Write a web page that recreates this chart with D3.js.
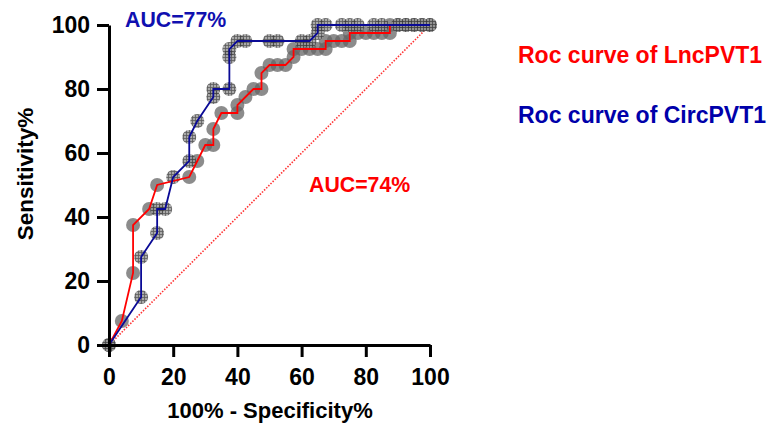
<!DOCTYPE html>
<html>
<head>
<meta charset="utf-8">
<script src="https://cdn.jsdelivr.net/npm/d3@7"></script>
<style>
  body { margin: 0; background: #fff; }
  text { font-family: "Liberation Sans", Arial, sans-serif; font-weight: bold; }
</style>
</head>
<body>
<div id="chart"></div>
<script>
// ROC points: [100% - specificity, sensitivity]
const lncPoints = [
  [0, 0], [4, 7.5], [7.5, 22.5], [7.5, 37.5], [12.5, 42.5], [15, 50], [25, 52.5],
  [27.5, 57.5], [30, 62.5], [32.5, 62.5], [32.5, 67.5], [35, 72.5], [40, 72.5],
  [40, 75], [42.5, 77.5], [45, 80], [47.5, 80], [47.5, 85], [50, 87.5], [52.5, 87.5],
  [55, 87.5], [57.5, 90], [57.5, 92.5], [60, 92.5], [62.5, 92.5], [65, 92.5],
  [67.5, 92.5], [67.5, 95], [70, 95], [72.5, 95], [75, 95], [75, 97.5], [77.5, 97.5],
  [80, 97.5], [82.5, 97.5], [85, 97.5], [87.5, 97.5], [87.5, 100], [90, 100],
  [92.5, 100], [95, 100], [97.5, 100], [100, 100]
];
const circPoints = [
  [0, 0], [10, 15], [10, 27.5], [15, 35], [15, 42.5], [17.5, 42.5], [20, 52.5],
  [25, 57.5], [25, 65], [27.5, 70], [32.5, 77.5], [32.5, 80], [37.5, 80], [37.5, 90],
  [37.5, 92.5], [40, 95], [42.5, 95], [50, 95], [52.5, 95], [60, 95], [62.5, 95],
  [65, 97.5], [65, 100], [67.5, 100], [72.5, 100], [75, 100], [77.5, 100],
  [82.5, 100], [85, 100], [90, 100], [92.5, 100], [95, 100], [97.5, 100], [100, 100]
];
const refLine = [[0, 0], [100, 100]];
const ticks = [0, 20, 40, 60, 80, 100];
const legendLabels = ["Roc curve of LncPVT1", "Roc curve of CircPVT1"];
const aucLabels = ["AUC=74%", "AUC=77%"];

const width = 767, height = 428;
const margin = { left: 109, right: 337, top: 25, bottom: 83 };
const red = "#ff0000", navy = "#0a0a96", blueText = "#1010b0";

const svg = d3.select("#chart").append("svg")
  .attr("width", width).attr("height", height);

const defs = svg.append("defs");
const pat = defs.append("pattern")
  .attr("id", "hatch").attr("patternUnits", "userSpaceOnUse")
  .attr("width", 3).attr("height", 3);
pat.append("rect").attr("width", 3).attr("height", 3).attr("fill", "#959595");
pat.append("path").attr("d", "M0,0.5H3M0.5,0V3")
  .attr("stroke", "#333").attr("stroke-width", 0.8);

const x = d3.scaleLinear().domain([0, 100]).range([margin.left, width - margin.right]);
const y = d3.scaleLinear().domain([0, 100]).range([height - margin.bottom, margin.top]);

const line = d3.line().x(d => x(d[0])).y(d => y(d[1]));

// reference diagonal
svg.append("path").datum(refLine)
  .attr("d", line).attr("fill", "none")
  .attr("stroke", red).attr("stroke-width", 1.6)
  .attr("stroke-dasharray", "1.5,1.5").attr("opacity", 0.8);

// markers
svg.append("g").selectAll("circle").data(lncPoints).join("circle")
  .attr("cx", d => x(d[0])).attr("cy", d => y(d[1])).attr("r", 7)
  .attr("fill", "#666").attr("fill-opacity", 0.75);

svg.append("g").selectAll("circle").data(circPoints).join("circle")
  .attr("cx", d => x(d[0])).attr("cy", d => y(d[1])).attr("r", 7)
  .attr("fill", "url(#hatch)").attr("fill-opacity", 0.8);

// curves
svg.append("path").datum(lncPoints)
  .attr("d", line).attr("fill", "none")
  .attr("stroke", red).attr("stroke-width", 1.8);

svg.append("path").datum(circPoints)
  .attr("d", line).attr("fill", "none")
  .attr("stroke", navy).attr("stroke-width", 1.8);

// axes
const xAxis = svg.append("g")
  .attr("transform", `translate(0,${y(0)})`)
  .call(d3.axisBottom(x).tickValues(ticks).tickSize(12).tickSizeOuter(0).tickPadding(12));
const yAxis = svg.append("g")
  .attr("transform", `translate(${x(0)},0)`)
  .call(d3.axisLeft(y).tickValues(ticks).tickSize(12).tickSizeOuter(0).tickPadding(7));

[xAxis, yAxis].forEach(a => {
  a.select(".domain").attr("stroke", "#000").attr("stroke-width", 3);
  a.selectAll(".tick line").attr("stroke", "#000").attr("stroke-width", 3);
  a.selectAll(".tick text").attr("font-size", 23).attr("fill", "#000")
    .style("font-family", "'Liberation Sans', Arial, sans-serif").style("font-weight", "bold");
});

// axis titles
svg.append("text")
  .attr("x", 270).attr("y", 418).attr("text-anchor", "middle")
  .attr("font-size", 22).text("100% - Specificity%");

svg.append("text")
  .attr("transform", "translate(33,174) rotate(-90)").attr("text-anchor", "middle")
  .attr("font-size", 22.5).text("Sensitivity%");

// legend
svg.append("text").attr("x", 518).attr("y", 63)
  .attr("font-size", 23).attr("fill", red).text(legendLabels[0]);
svg.append("text").attr("x", 518).attr("y", 123)
  .attr("font-size", 23).attr("fill", "#0000aa").text(legendLabels[1]);

// AUC labels
svg.append("text").attr("x", 309).attr("y", 192)
  .attr("font-size", 21.3).attr("fill", red).text(aucLabels[0]);
svg.append("text").attr("x", 125).attr("y", 27)
  .attr("font-size", 21.3).attr("fill", blueText).text(aucLabels[1]);
</script>
</body>
</html>
